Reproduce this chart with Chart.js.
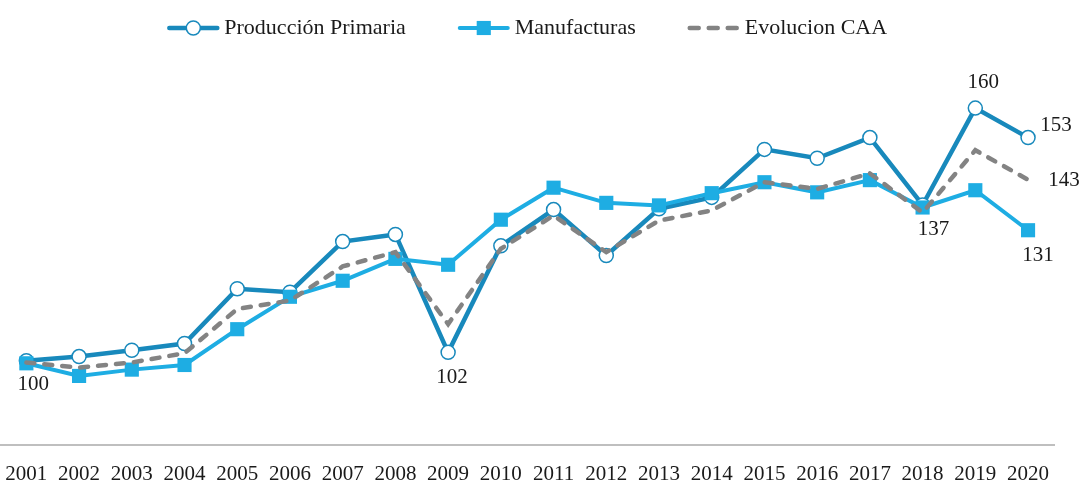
<!DOCTYPE html>
<html><head><meta charset="utf-8">
<script src="https://cdn.jsdelivr.net/npm/chart.js@4/dist/chart.umd.min.js"></script>
<style>html,body{margin:0;padding:0;background:#fff;} #wrap{width:1081px;height:486px;position:relative;}</style>
</head><body><div id="wrap"><canvas id="c"></canvas></div>
<script>
const years = ['2001','2002','2003','2004','2005','2006','2007','2008','2009','2010','2011','2012','2013','2014','2015','2016','2017','2018','2019','2020'];
const produccionPrimaria = [100, 101, 102.5, 104.1, 117.1, 116.3, 128.3, 130, 102, 127.3, 135.9, 125, 136.1, 138.8, 150.2, 148.1, 153, 137, 160, 153];
const manufacturas = [99.4, 96.4, 97.9, 99, 107.5, 115.2, 119, 124.2, 122.8, 133.5, 141.1, 137.5, 136.9, 139.8, 142.4, 140, 142.9, 136.4, 140.5, 131];
const evolucionCAA = [99.6, 98.4, 99.6, 101.8, 112.3, 114.3, 122.4, 125.8, 108.7, 126.6, 134.5, 125.8, 133.3, 135.7, 142.4, 140.8, 144.5, 135.2, 150, 143];
const seriesNames = ['Producción Primaria', 'Manufacturas', 'Evolucion CAA'];
const yMin = 80, yMax = 170;
// points that carry a value label: [datasetIndex, pointIndex]
const labelledPoints = [[0,0],[0,8],[0,17],[0,18],[0,19],[2,19],[1,19]];

// styles (not data)
const labelOffsets = [[7,24],[4,25],[11,25],[8,-26],[28,-12],[36,1],[10,25]];
const colPP = '#1889bc', colMF = '#1eade3', colCAA = '#838383';
const FONT = '"Liberation Serif", "Times New Roman", serif';

const customPlugin = {
  id: 'custom',
  afterDatasetsDraw(chart) {
    const ctx = chart.ctx;
    ctx.save();
    ctx.font = '21px ' + FONT;
    ctx.fillStyle = '#1a1a1a';
    ctx.textAlign = 'center';
    ctx.textBaseline = 'middle';
    labelledPoints.forEach(([d, i], k) => {
      const el = chart.getDatasetMeta(d).data[i];
      const [dx, dy] = labelOffsets[k];
      ctx.fillText(String(Math.round(chart.data.datasets[d].data[i])), el.x + dx, el.y + dy);
    });
    // legend
    ctx.font = '22px ' + FONT;
    ctx.textAlign = 'left';
    const markerW = 52, gapText = 5, gapItem = 52, ly = 28;
    const widths = chart.data.datasets.map(ds => ctx.measureText(ds.label).width);
    let total = 0;
    widths.forEach((w, k) => { total += markerW + gapText + w + (k < widths.length - 1 ? gapItem : 0); });
    const ca = chart.chartArea;
    let x = (ca.left + ca.right) / 2 - total / 2;
    chart.data.datasets.forEach((ds, k) => {
      ctx.save();
      ctx.strokeStyle = ds.borderColor;
      ctx.lineWidth = ds.borderWidth;
      ctx.lineCap = 'round';
      if (ds.borderDash && ds.borderDash.length) ctx.setLineDash([9, 10]);
      ctx.beginPath();
      ctx.moveTo(x + 2, ly); ctx.lineTo(x + markerW - 2, ly);
      ctx.stroke();
      ctx.setLineDash([]);
      if (ds.pointRadius > 0) {
        ctx.fillStyle = ds.pointBackgroundColor;
        ctx.strokeStyle = ds.pointBorderColor;
        ctx.lineWidth = ds.pointBorderWidth;
        Chart.helpers.drawPoint(ctx, {pointStyle: ds.pointStyle, radius: ds.pointRadius, borderWidth: ds.pointBorderWidth, rotation: 0}, x + markerW / 2, ly);
      }
      ctx.restore();
      ctx.fillStyle = '#1a1a1a';
      ctx.fillText(ds.label, x + markerW + gapText, ly);
      x += markerW + gapText + widths[k] + gapItem;
    });
    ctx.restore();
  }
};

new Chart(document.getElementById('c'), {
  type: 'line',
  data: {
    labels: years,
    datasets: [
      { label: seriesNames[0], data: produccionPrimaria, borderColor: colPP, borderWidth: 4.5,
        pointStyle: 'circle', pointRadius: 7, pointBackgroundColor: '#ffffff', pointBorderColor: colPP, pointBorderWidth: 1.5,
        tension: 0, order: 3, clip: false },
      { label: seriesNames[1], data: manufacturas, borderColor: colMF, borderWidth: 4,
        pointStyle: 'rect', pointRadius: 10, pointBackgroundColor: colMF, pointBorderColor: colMF, pointBorderWidth: 0,
        tension: 0, order: 2, clip: false },
      { label: seriesNames[2], data: evolucionCAA, borderColor: colCAA, borderWidth: 4.5, borderDash: [8, 10], borderCapStyle: 'round',
        pointRadius: 0, tension: 0, order: 1, clip: false }
    ]
  },
  options: {
    responsive: true,
    maintainAspectRatio: false,
    animation: false,
    layout: { autoPadding: false, padding: { top: 66, right: 26.6, bottom: 0, left: -2.5 } },
    plugins: { legend: { display: false }, tooltip: { enabled: false } },
    scales: {
      x: {
        type: 'category', offset: true,
        grid: { display: false, drawTicks: false },
        border: { display: true, color: '#bfbfbf', width: 2 },
        ticks: { color: '#1a1a1a', font: { family: FONT, size: 21 }, padding: 17, maxRotation: 0, minRotation: 0, autoSkip: false },
        afterFit(scale) { scale.height = 41; scale.paddingLeft = -2.5; scale.paddingRight = 0; }
      },
      y: { display: false, min: yMin, max: yMax }
    }
  },
  plugins: [customPlugin]
});
</script>
</body></html>
